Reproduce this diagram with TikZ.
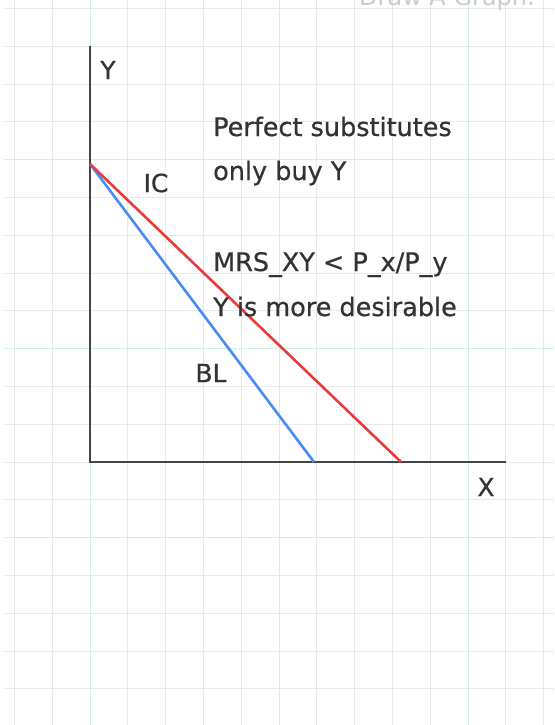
\documentclass[tikz,border=0pt]{standalone}
\usepackage{fontspec}
\setmainfont{DejaVu Sans}[FakeBold=0.6]
\newfontfamily\titlefont{DejaVu Sans}
\definecolor{gridgray}{HTML}{E9E9E9}
\definecolor{gridteal}{HTML}{CFEFE8}
\definecolor{axisgray}{HTML}{454545}
\definecolor{icred}{HTML}{EA3B3B}
\definecolor{blblue}{HTML}{4A8DF0}
\definecolor{txt}{HTML}{333333}
\definecolor{faint}{HTML}{CCCCCC}
\tikzset{
  minorline/.style={draw=gridgray, line width=1pt},
  majorline/.style={draw=gridteal, line width=1pt},
  axisline/.style={draw=axisgray, line width=2pt},
  icline/.style={draw=icred, line width=2.6pt},
  blline/.style={draw=blblue, line width=2.6pt},
  lbl/.style={text=txt, font=\fontsize{25}{30}\selectfont, inner sep=0pt},
  note/.style={text=txt, font=\fontsize{25.5}{30}\selectfont, inner sep=0pt, anchor=base west},
}
\begin{document}
\begin{tikzpicture}[x=1pt,y=-1pt]
\useasboundingbox (0,0) rectangle (554,725);
\fill[white] (0,0) rectangle (554,725);
% grid
\foreach \k in {0,...,14} {
  \pgfmathsetmacro{\xx}{14.5+37.8*\k}
  \pgfmathtruncatemacro{\m}{mod(\k+3,5)}
  \ifnum\m=0 \draw[majorline] (\xx,0) -- (\xx,725); \else \draw[minorline] (\xx,0) -- (\xx,725); \fi
}
\foreach \k in {-7,...,12} {
  \pgfmathsetmacro{\yy}{462-37.8*\k}
  \pgfmathtruncatemacro{\m}{mod(\k+12,5)}
  \ifnum\m=0 \draw[majorline] (4,\yy) -- (554,\yy); \else \draw[minorline] (4,\yy) -- (554,\yy); \fi
}
% top title (cut off at the top edge, as in the reference)
\node[text=faint, font=\titlefont\fontsize{24}{28}\selectfont, inner sep=0pt, anchor=base east] (title) at (535,6) {Draw A Graph.};
% axes
\coordinate (ytop) at (90,46);
\coordinate (O) at (90,462);
\coordinate (xend) at (506,462);
\coordinate (A) at (90,164);
\coordinate (Bend) at (314,462);
\coordinate (Rend) at (401,462);
\draw[axisline] (ytop) -- (O) -- (xend);
\draw[blline] (A) -- (Bend);
\draw[icline] (A) -- (Rend);
% labels
\node[lbl] (ylab) at (108,70) {Y};
\node[lbl] (xlab) at (486,487) {X};
\node[lbl] (ic) at (156,183) {IC};
\node[lbl] (bl) at (211,373) {BL};
\node[note] (n1) at (213,136) {Perfect substitutes};
\node[note] (n2) at (213,180) {only buy Y};
\node[note] (n3) at (213,271) {MRS\_XY < P\_x/P\_y};
\node[note] (n4) at (213,316) {Y is more desirable};
\end{tikzpicture}
\end{document}
